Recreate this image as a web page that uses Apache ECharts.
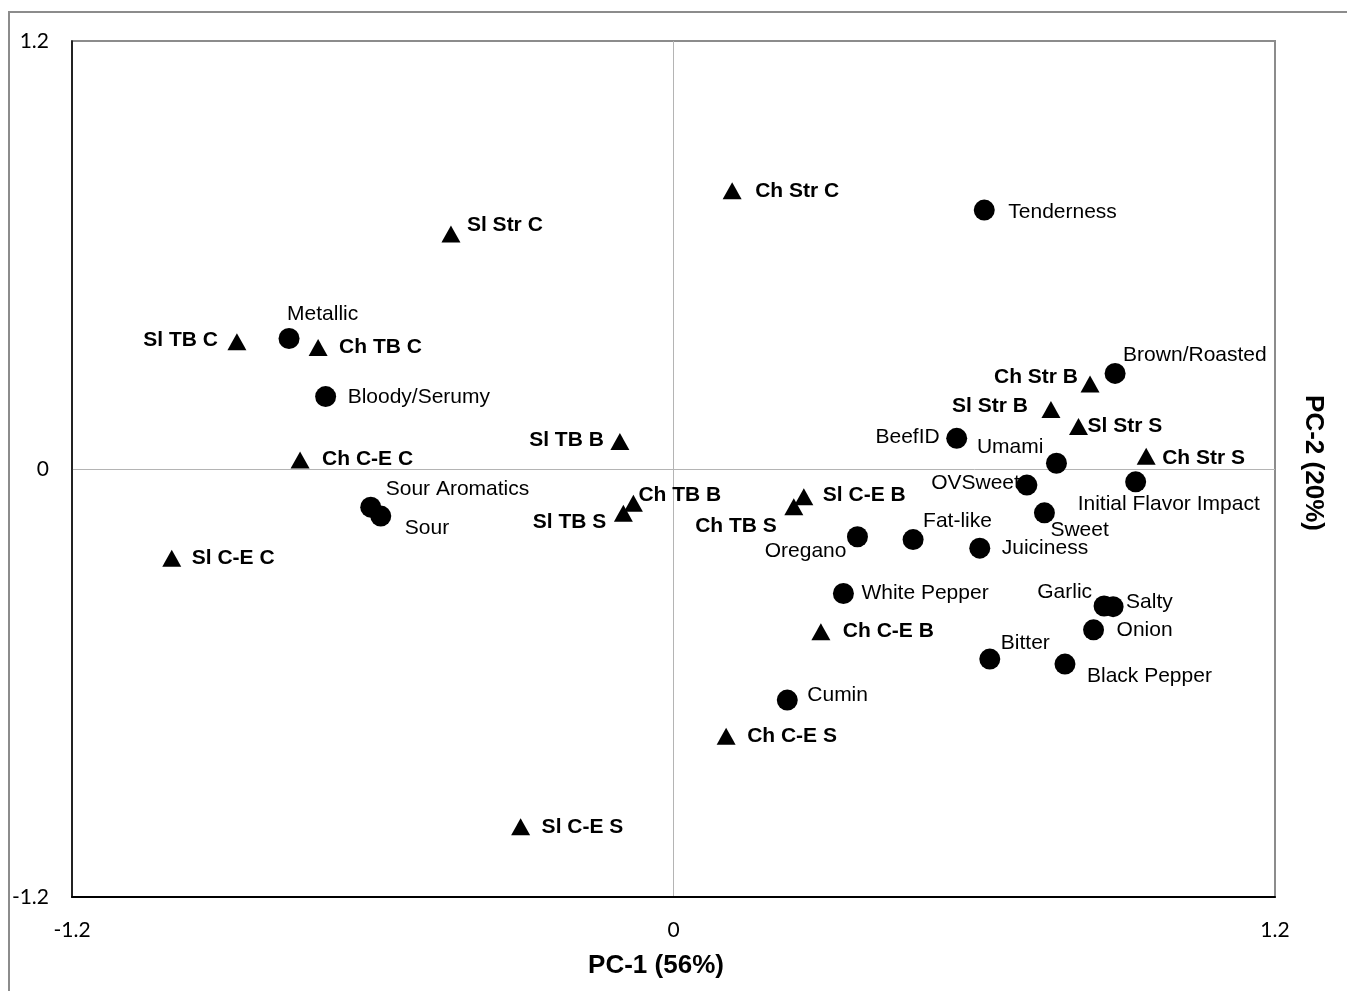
<!DOCTYPE html>
<html>
<head>
<meta charset="utf-8">
<title>PCA biplot: PC-1 vs PC-2</title>
<script src="https://cdn.jsdelivr.net/npm/echarts@6/dist/echarts.min.js"></script>
<style>
  html, body { margin: 0; padding: 0; background: #fff; }
  #chart { width: 1347px; height: 991px; }
</style>
</head>
<body>
<div id="chart"></div>
<script>
// Axis ticks
const axisTicks = [-1.2, 0, 1.2];

// Samples (triangles)
const sampleNames = ['Ch Str C', 'Sl Str C', 'Sl TB C', 'Ch TB C', 'Ch C-E C', 'Sl TB B', 'Sl C-E C',
  'Ch TB B', 'Sl TB S', 'Ch TB S', 'Sl C-E B', 'Ch C-E B', 'Ch C-E S', 'Sl C-E S',
  'Ch Str B', 'Sl Str B', 'Sl Str S', 'Ch Str S'];
const samplePC1 = [0.117, -0.444, -0.871, -0.709, -0.745, -0.107, -1.001,
  -0.080, -0.100, 0.240, 0.260, 0.294, 0.105, -0.305,
  0.831, 0.753, 0.808, 0.943];
const samplePC2 = [0.780, 0.659, 0.357, 0.341, 0.025, 0.077, -0.250,
  -0.096, -0.124, -0.106, -0.078, -0.456, -0.749, -1.003,
  0.238, 0.167, 0.119, 0.036];

// Sensory attributes (circles)
const attributeNames = ['Tenderness', 'Metallic', 'Bloody/Serumy', 'Sour Aromatics', 'Sour',
  'Brown/Roasted', 'BeefID', 'Umami', 'OVSweet', 'Initial Flavor Impact', 'Sweet',
  'Oregano', 'Fat-like', 'Juiciness', 'White Pepper', 'Garlic', 'Salty', 'Onion',
  'Bitter', 'Black Pepper', 'Cumin'];
const attributePC1 = [0.620, -0.767, -0.694, -0.604, -0.584,
  0.881, 0.565, 0.764, 0.705, 0.922, 0.740,
  0.367, 0.478, 0.611, 0.339, 0.859, 0.877, 0.838,
  0.631, 0.781, 0.227];
const attributePC2 = [0.726, 0.366, 0.203, -0.107, -0.132,
  0.268, 0.086, 0.016, -0.045, -0.036, -0.123,
  -0.190, -0.198, -0.222, -0.349, -0.384, -0.386, -0.451,
  -0.533, -0.547, -0.648];

// Where each point's label sits relative to its marker: [text align, dx, dy]
const labelPlacement = {
  'Ch Str C': ['left', 23, 0], 'Sl Str C': ['left', 16, -9], 'Sl TB C': ['right', -19, -1],
  'Ch TB C': ['left', 21, 0], 'Ch C-E C': ['left', 22, -1], 'Sl TB B': ['right', -16, -1],
  'Sl C-E C': ['left', 20, 0], 'Ch TB B': ['left', 5, -8], 'Sl TB S': ['right', -17, 9],
  'Ch TB S': ['right', -17, 19], 'Sl C-E B': ['left', 19, -2], 'Ch C-E B': ['left', 22, 0],
  'Ch C-E S': ['left', 21, 0], 'Sl C-E S': ['left', 21, 0], 'Ch Str B': ['right', -12, -7],
  'Sl Str B': ['right', -23, -3], 'Sl Str S': ['left', 9, 0], 'Ch Str S': ['left', 16, 2],
  'Tenderness': ['left', 24, 2], 'Metallic': ['left', -2, -24], 'Bloody/Serumy': ['left', 22, 1],
  'Sour Aromatics': ['left', 15, -18], 'Sour': ['left', 24, 12], 'Brown/Roasted': ['left', 8, -18],
  'BeefID': ['right', -17, -1], 'Umami': ['right', -13, -16], 'OVSweet': ['right', -7, -2],
  'Initial Flavor Impact': ['left', -58, 22], 'Sweet': ['left', 6, 17], 'Oregano': ['right', -11, 14],
  'Fat-like': ['left', 10, -18], 'Juiciness': ['left', 22, 0], 'White Pepper': ['left', 18, 0],
  'Garlic': ['right', -12, -14], 'Salty': ['left', 13, -4], 'Onion': ['left', 23, 0],
  'Bitter': ['left', 11, -16], 'Black Pepper': ['left', 22, 12], 'Cumin': ['left', 20, -5]
};

function buildPoints(names, xs, ys, fontWeight) {
  return names.map(function (name, i) {
    const p = labelPlacement[name] || ['left', 20, 0];
    return {
      name: name,
      value: [xs[i], ys[i]],
      label: {
        show: true,
        formatter: name,
        position: 'inside',
        align: p[0],
        verticalAlign: 'middle',
        offset: [p[1], p[2]],
        color: '#000',
        opacity: 1,
        textBorderWidth: 0,
        fontFamily: '"Liberation Sans", Arial, sans-serif',
        fontSize: 21,
        fontWeight: fontWeight
      }
    };
  });
}

const chart = echarts.init(document.getElementById('chart'), null, { renderer: 'canvas' });

const tickMin = axisTicks[0];
const tickMax = axisTicks[axisTicks.length - 1];
const tickStep = axisTicks[1] - axisTicks[0];

const axisCommon = {
  type: 'value',
  min: tickMin,
  max: tickMax,
  interval: tickStep,
  axisLine: { show: true, onZero: false, lineStyle: { color: '#000', width: 1.5 } },
  axisTick: { show: false },
  splitLine: { show: true, showMinLine: false, showMaxLine: false, lineStyle: { color: '#b4b4b4', width: 1 } },
  axisLabel: {
    color: '#000',
    fontFamily: 'Lato, "Open Sans", sans-serif',
    fontSize: 21,
    formatter: function (v) { return String(Math.round(v * 10) / 10); }
  }
};

chart.setOption({
  animation: false,
  backgroundColor: '#fff',
  grid: {
    left: 72, right: 72, top: 41, bottom: 94,
    show: true, borderColor: '#8c8c8c', borderWidth: 2, backgroundColor: 'transparent'
  },
  xAxis: Object.assign({}, axisCommon, {
    axisLine: { show: true, onZero: false, lineStyle: { color: '#000', width: 2 } },
    axisLabel: Object.assign({}, axisCommon.axisLabel, { margin: 23 })
  }),
  yAxis: Object.assign({}, axisCommon, {
    axisLabel: Object.assign({}, axisCommon.axisLabel, { margin: 23 })
  }),
  graphic: [
    {
      type: 'rect',
      shape: { x: 9, y: 12, width: 1400, height: 1000 },
      style: { fill: 'none', stroke: '#8c8c8c', lineWidth: 2 },
      silent: true
    },
    {
      type: 'text',
      x: 656, y: 966,
      style: {
        text: 'PC-1 (56%)', fill: '#000',
        font: 'bold 26px "Liberation Sans", Arial, sans-serif',
        align: 'center', verticalAlign: 'middle'
      }
    },
    {
      type: 'text',
      x: 1313, y: 463,
      rotation: -Math.PI / 2,
      style: {
        text: 'PC-2 (20%)', fill: '#000',
        font: 'bold 26px "Liberation Sans", Arial, sans-serif',
        align: 'center', verticalAlign: 'middle'
      }
    }
  ],
  series: [
    {
      name: 'Samples',
      type: 'scatter',
      symbol: 'triangle',
      symbolSize: [19, 17],
      itemStyle: { color: '#000', opacity: 1 },
      emphasis: { disabled: true },
      z: 3,
      data: buildPoints(sampleNames, samplePC1, samplePC2, 'bold')
    },
    {
      name: 'Attributes',
      type: 'scatter',
      symbol: 'circle',
      symbolSize: 21,
      itemStyle: { color: '#000', opacity: 1 },
      emphasis: { disabled: true },
      z: 3,
      data: buildPoints(attributeNames, attributePC1, attributePC2, 'normal')
    }
  ]
});
</script>
</body>
</html>
